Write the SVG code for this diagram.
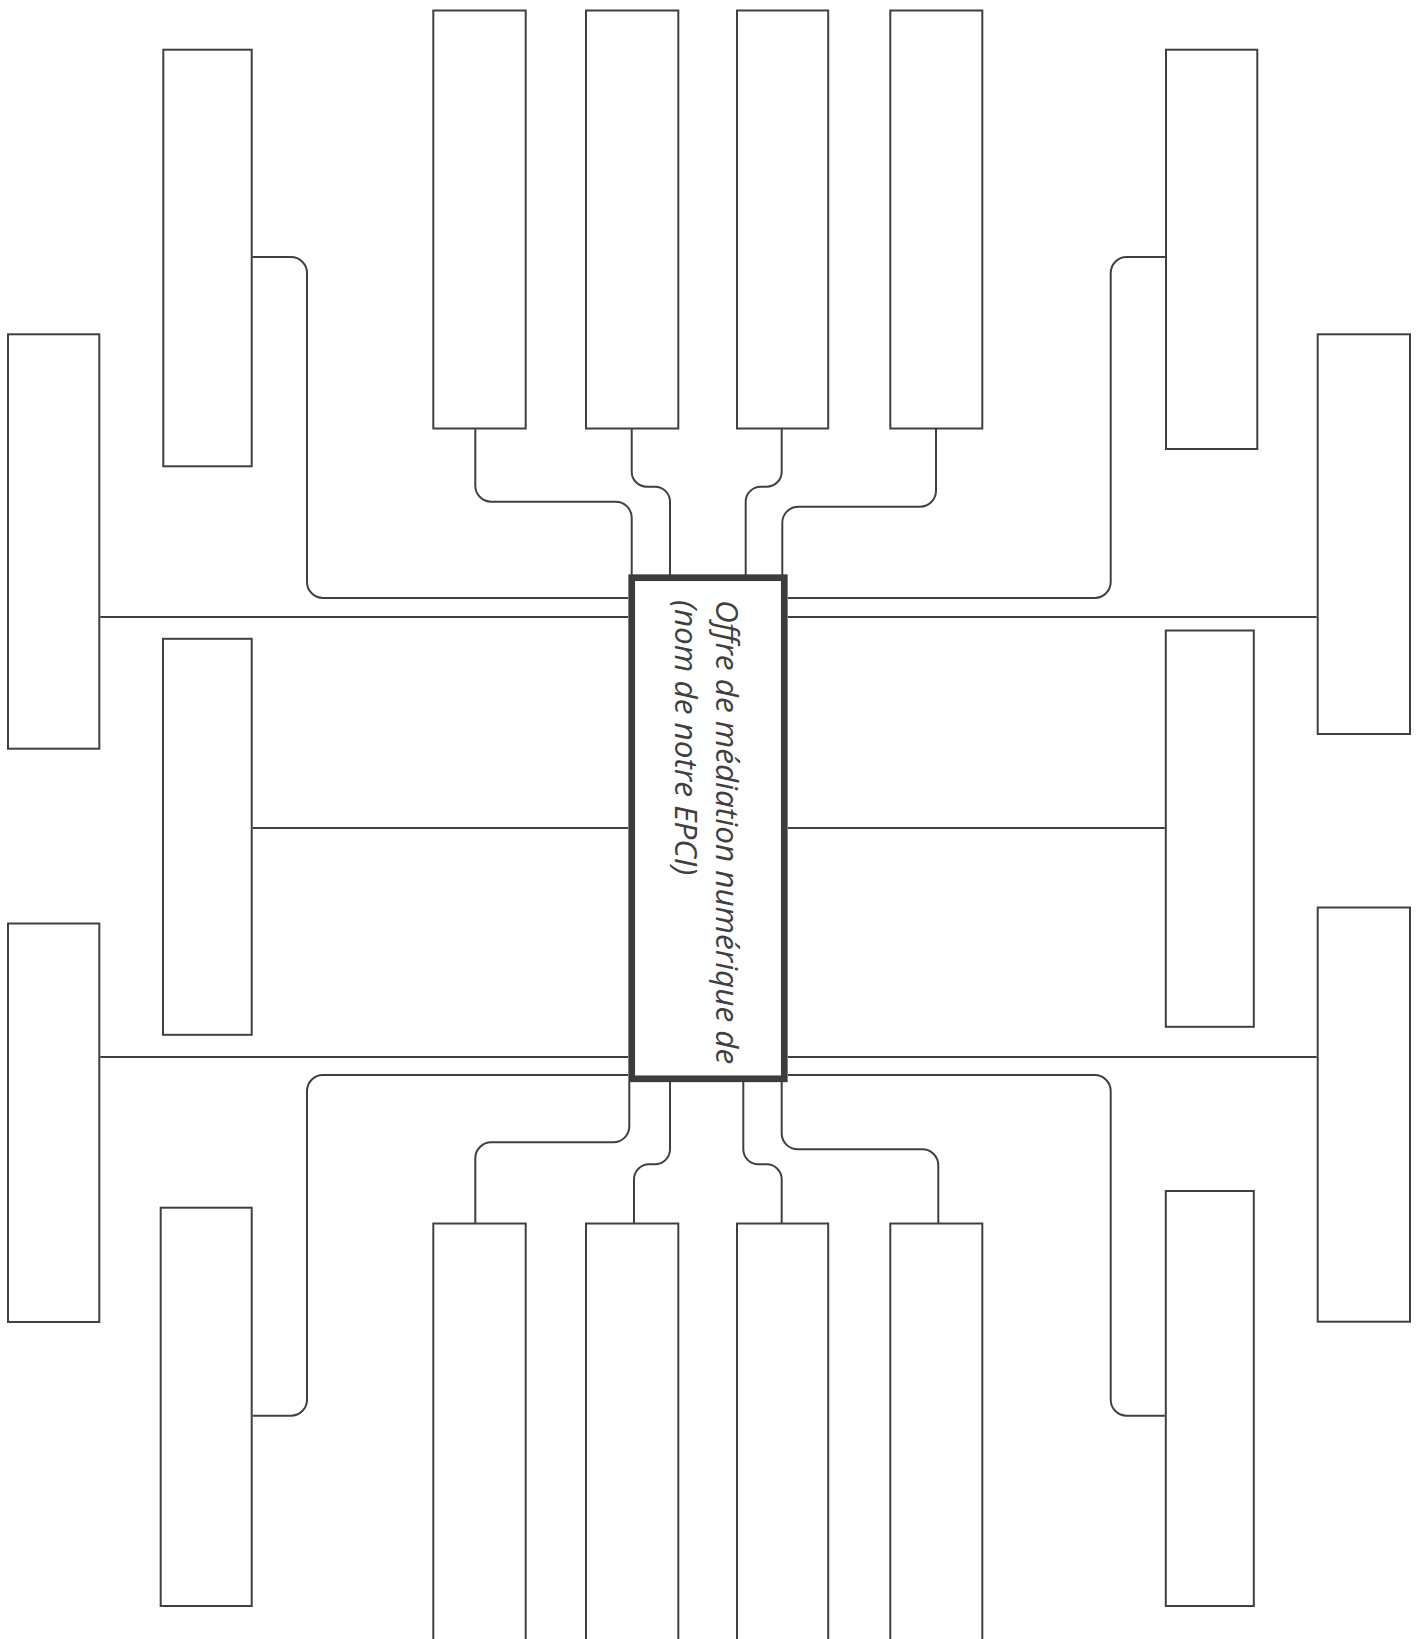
<svg xmlns="http://www.w3.org/2000/svg" width="1421" height="1639" viewBox="0 0 1421 1639">
<style>
.n{fill:#fff;stroke:#404040;stroke-width:2}
.c{fill:none;stroke:#404040;stroke-width:2}
.ctr{fill:#fff;stroke:#3c3c3c;stroke-width:6.7}
.t{font-family:"Open Sans",sans-serif;font-style:italic;font-size:31.5px;fill:#404040}
</style>
<rect width="1421" height="1639" fill="#fff"/>
<g id="connectors">
<path class="c" d="M252.3,257 H291 A16 16 0 0 1 307 273 V582 A16 16 0 0 0 323 598 H628"/>
<path class="c" d="M100.3,617 H628"/>
<path class="c" d="M252.7,828 H628"/>
<path class="c" d="M100.3,1057 H628"/>
<path class="c" d="M252.7,1415.7 H291 A16 16 0 0 0 307 1399.7 V1091 A16 16 0 0 1 323 1075 H628"/>
<path class="c" d="M1165,257 H1126.7 A16 16 0 0 0 1110.7 273 V582 A16 16 0 0 1 1094.7 598 H788"/>
<path class="c" d="M1316.7,617 H788"/>
<path class="c" d="M1164.8,828 H788"/>
<path class="c" d="M1316.7,1057 H788"/>
<path class="c" d="M1164.8,1415.7 H1126.7 A16 16 0 0 1 1110.7 1399.7 V1091 A16 16 0 0 0 1094.7 1075 H788"/>
<path class="c" d="M475.3,429 V485.7 A16 16 0 0 0 491.3 501.7 H615.7 A16 16 0 0 1 631.7 517.7 V575"/>
<path class="c" d="M631.7,429 V471.7 A15 15 0 0 0 646.7 486.7 H655 A15 15 0 0 1 670 501.7 V575"/>
<path class="c" d="M781.7,429 V471.7 A15 15 0 0 1 766.7 486.7 H760.7 A15 15 0 0 0 745.7 501.7 V575"/>
<path class="c" d="M936,429 V490.7 A16 16 0 0 1 920 506.7 H798.3 A16 16 0 0 0 782.3 522.7 V575"/>
<path class="c" d="M629.3,1082 V1126.3 A16 16 0 0 1 613.3 1142.3 H491.3 A16 16 0 0 0 475.3 1158.3 V1223"/>
<path class="c" d="M670,1082 V1149.3 A15 15 0 0 1 655 1164.3 H649 A15 15 0 0 0 634 1179.3 V1223"/>
<path class="c" d="M743.3,1082 V1149.3 A15 15 0 0 0 758.3 1164.3 H766.7 A15 15 0 0 1 781.7 1179.3 V1223"/>
<path class="c" d="M781.7,1082 V1133.3 A16 16 0 0 0 797.7 1149.3 H922.3 A16 16 0 0 1 938.3 1165.3 V1223"/>
</g>
<g id="node-t1"><rect class="n" x="433.3" y="10.5" width="92.4" height="418"/></g>
<g id="node-t2"><rect class="n" x="586" y="10.5" width="92.3" height="418"/></g>
<g id="node-t3"><rect class="n" x="737" y="10.5" width="91.2" height="418"/></g>
<g id="node-t4"><rect class="n" x="890.3" y="10.5" width="92" height="418"/></g>
<g id="node-b1"><rect class="n" x="433.3" y="1223.5" width="92.4" height="430"/></g>
<g id="node-b2"><rect class="n" x="586" y="1223.5" width="92.3" height="430"/></g>
<g id="node-b3"><rect class="n" x="737" y="1223.5" width="91.2" height="430"/></g>
<g id="node-b4"><rect class="n" x="890.3" y="1223.5" width="92" height="430"/></g>
<g id="node-la"><rect class="n" x="163.3" y="49.7" width="88.4" height="416.6"/></g>
<g id="node-lb"><rect class="n" x="8" y="334.3" width="91.3" height="414.4"/></g>
<g id="node-lm"><rect class="n" x="163" y="638.8" width="88.7" height="396"/></g>
<g id="node-lc"><rect class="n" x="8" y="923.5" width="91.3" height="398.5"/></g>
<g id="node-ld"><rect class="n" x="160.7" y="1207.7" width="91" height="398.3"/></g>
<g id="node-ra"><rect class="n" x="1166" y="49.7" width="91.3" height="399.3"/></g>
<g id="node-rb"><rect class="n" x="1317.7" y="334.3" width="92.3" height="399.7"/></g>
<g id="node-rm"><rect class="n" x="1165.8" y="630.5" width="88" height="396.3"/></g>
<g id="node-rc"><rect class="n" x="1317.7" y="907.5" width="92.3" height="414.2"/></g>
<g id="node-rd"><rect class="n" x="1165.8" y="1191" width="88" height="415"/></g>
<g id="node-center">
<rect class="ctr" x="631.7" y="577.7" width="152.6" height="501.1"/>
<text class="t" transform="translate(716,600) rotate(90)"><tspan x="0" y="0">Offre de médiation numérique de</tspan><tspan x="0" y="41">(nom de notre EPCI)</tspan></text>
</g>
</svg>
